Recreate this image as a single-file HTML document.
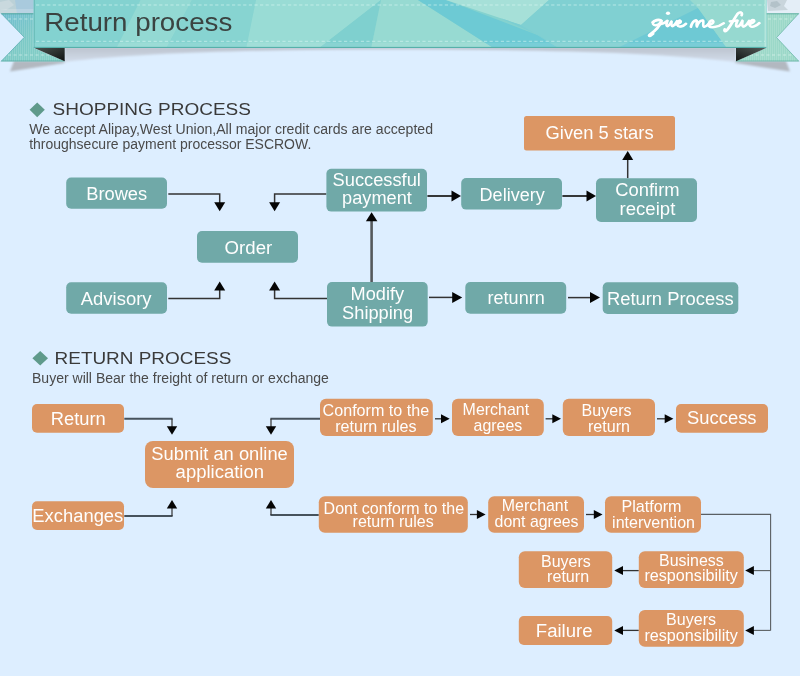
<!DOCTYPE html>
<html><head><meta charset="utf-8"><title>Return process</title>
<style>
html,body{margin:0;padding:0;background:#ddeeff;}
body{width:800px;height:676px;overflow:hidden;font-family:"Liberation Sans",sans-serif;}
svg{display:block;font-family:"Liberation Sans",sans-serif;}
</style></head><body>
<svg width="800" height="676" viewBox="0 0 800 676">
<rect width="800" height="676" fill="#ddeeff"/>
<defs>
<linearGradient id="fold" x1="0" y1="0" x2="1" y2="1"><stop offset="0" stop-color="#4a524f"/><stop offset="0.55" stop-color="#2a2f2d"/><stop offset="1" stop-color="#0d100f"/></linearGradient>
<linearGradient id="foldr" x1="1" y1="0" x2="0" y2="1"><stop offset="0" stop-color="#525a57"/><stop offset="0.55" stop-color="#303634"/><stop offset="1" stop-color="#141716"/></linearGradient>
<linearGradient id="shd" x1="0" x2="0" y1="0" y2="1"><stop offset="0" stop-color="#bcc3ce"/><stop offset="1" stop-color="#d2dcea"/></linearGradient>
<linearGradient id="tl" x1="0" x2="1" y1="0" y2="1"><stop offset="0" stop-color="#6fbcd0"/><stop offset="0.45" stop-color="#7cc9c6"/><stop offset="1" stop-color="#86d0c6"/></linearGradient>
<pattern id="stripeL" width="2" height="4" patternUnits="userSpaceOnUse"><rect width="1" height="4" fill="#ffffff" opacity="0.13"/></pattern>
<filter id="bl1" x="-10%" y="-50%" width="120%" height="200%"><feGaussianBlur stdDeviation="0.8"/></filter>
<filter id="bl2" x="-10%" y="-50%" width="120%" height="200%"><feGaussianBlur stdDeviation="1.2"/></filter>
<clipPath id="rc"><rect x="33.7" y="0" width="732.6" height="48.1"/></clipPath>
</defs>
<!-- marble corners -->
<rect x="0" y="0" width="34" height="13.4" fill="#bbd1d7"/>
<polygon points="15,0 34,0 34,13.4 17,13.4" fill="#a9cadd"/>
<polygon points="0,2 9,0 14,5 6,10 0,9" fill="#c9d9de"/>
<rect x="0" y="9" width="34" height="4.4" fill="#ffffff" opacity="0.18"/>
<rect x="766" y="0" width="34" height="13.4" fill="#e4eef7"/>
<polygon points="767,0 787,0 784,6 788,10 768,11" fill="#c9d5dc"/>
<polygon points="771,2 777,1 781,5 775,8 770,6" fill="#b3c2c9"/>
<!-- ribbon shadow under bar -->
<path d="M64.5,47 L736,47 L736,62 C650,51.5 520,49.6 400,49.6 C280,49.6 150,51.5 64.5,62 Z" fill="url(#shd)" filter="url(#bl1)"/>
<!-- tail shadows -->
<polygon points="14,61 64.5,61 64.5,63 10,71.6" fill="#b2b8c0" filter="url(#bl1)"/>
<polygon points="786,61 735.5,61 735.5,63 790,71.6" fill="#b2b8c0" filter="url(#bl1)"/>
<!-- tails -->
<polygon points="1.2,13.4 33.8,13.4 33.8,48 64.6,61.3 1.2,61.3 24.3,37.3" fill="url(#tl)"/>
<polygon points="1.2,13.4 33.8,13.4 33.8,48 64.6,61.3 1.2,61.3 24.3,37.3" fill="url(#stripeL)"/>
<polyline points="1.2,13.8 33.8,13.8" stroke="#4fa59f" stroke-width="1" fill="none"/>
<polyline points="1.2,61 64.6,61" stroke="#58aaa3" stroke-width="0.8" fill="none"/>
<polyline points="1.2,13.4 24.3,37.3 1.2,61.3" stroke="#5fb0b4" stroke-width="0.8" fill="none"/>
<line x1="8" y1="19" x2="33" y2="19" stroke="#d7f3ef" stroke-width="0.8" stroke-dasharray="3,2.5" opacity="0.8"/>
<line x1="8" y1="55" x2="50" y2="55" stroke="#d7f3ef" stroke-width="0.8" stroke-dasharray="3,2.5" opacity="0.8"/>
<polygon points="798.8,13.4 766.2,13.4 766.2,48 735.8,61.3 798.8,61.3 776.6,37.6" fill="#9bd8c8"/>
<polygon points="798.8,13.4 766.2,13.4 766.2,48 735.8,61.3 798.8,61.3 776.6,37.6" fill="url(#stripeL)"/>
<polyline points="766,13.8 798.8,13.8" stroke="#62b0a2" stroke-width="1" fill="none"/>
<polyline points="735.8,61 798.8,61" stroke="#62b0a2" stroke-width="0.8" fill="none"/>
<polyline points="798.8,13.4 776.6,37.6 798.8,61.3" stroke="#6fb9ab" stroke-width="0.8" fill="none"/>
<line x1="768" y1="19" x2="792" y2="19" stroke="#e2f7f1" stroke-width="0.8" stroke-dasharray="3,2.5" opacity="0.8"/>
<line x1="750" y1="55" x2="792" y2="55" stroke="#e2f7f1" stroke-width="0.8" stroke-dasharray="3,2.5" opacity="0.8"/>
<!-- folds -->
<polygon points="34.3,48 64.7,48 64.7,61.3" fill="url(#fold)"/>
<polygon points="766,48 736,48 736,61.3" fill="url(#foldr)"/>
<!-- main ribbon with facets -->
<g clip-path="url(#rc)">
<rect x="33" y="0" width="734" height="49" fill="#84d2cf"/>
<polygon points="33,0 140.5,0 116,49 33,49" fill="#83d2d0"/>
<polygon points="140.5,0 192,0 166,49 116,49" fill="#93d9d3"/>
<polygon points="192,0 256,0 246,49 166,49" fill="#87d4d1"/>
<polygon points="256,0 381,0 318,49 246,49" fill="#99dcd5"/>
<polygon points="381,0 318,49 371,49" fill="#7fd0cf"/>
<polygon points="381,0 418,0 495,49 371,49" fill="#97dad2"/>
<polygon points="418,0 446,0 540,36 560,49 495,49" fill="#6dcad4"/>
<polygon points="446,0 549,0 521,25 500,18" fill="#a6e0d8"/>
<polygon points="549,0 767,0 767,49 560,49 521,25" fill="#80d0d2"/>
<polygon points="500,18 521,25 560,49 540,36" fill="#7bced3"/>
<polygon points="698,8 615.5,49 727.5,49" fill="#6ec9d4"/>
<polygon points="698,8 727.5,49 767,49 767,0 690,0" fill="#96d9d0"/>
<rect x="33.7" y="0" width="1.2" height="49" fill="#6bbdb9"/>
<rect x="764.5" y="0" width="2" height="49" fill="#b4e6dc"/>
<rect x="33" y="43" width="734" height="3.8" fill="#ffffff" opacity="0.08"/>
<rect x="33" y="46.9" width="734" height="1.3" fill="#56b0aa"/>
<line x1="36" y1="5" x2="765" y2="5" stroke="#dcf8f4" stroke-width="0.75" stroke-dasharray="3.2,2.4" opacity="0.8"/>
<line x1="36" y1="41.3" x2="765" y2="41.3" stroke="#dcf8f4" stroke-width="0.75" stroke-dasharray="3.2,2.4" opacity="0.8"/>
</g>

<polygon points="29.6,109.8 37.2,102.4 44.8,109.8 37.2,117.2" fill="#5f9a8b"/>
<polygon points="32.4,358.3 40.2,351 48,358.3 40.2,365.6" fill="#5f9a8b"/>
<g fill="none" stroke="#ffffff" stroke-width="2.0" stroke-linecap="round" stroke-linejoin="round">
<path d="M 652.13,22.40 C 654.00,19.63 659.25,18.50 661.13,20.60 C 658.88,19.25 653.25,20.00 652.50,22.85 C 652.35,25.85 657.38,26.15 660.38,22.40"/>
<path d="M 661.20,20.38 C 659.85,25.25 654.75,30.88 649.65,34.40 C 647.70,35.90 648.60,37.25 652.88,33.35"/>
<path d="M 660.00,23.90 C 663.38,23.23 665.63,22.10 667.20,20.45 C 666.30,23.00 665.40,25.85 666.90,26.15 C 668.40,26.15 670.13,23.15 671.25,21.20 C 671.03,23.00 670.65,26.00 671.93,26.15 C 673.80,25.70 675.75,22.70 676.88,20.90"/>
<path d="M 675.15,24.20 C 678.00,24.05 681.15,22.25 680.25,20.68 C 679.13,19.25 676.50,22.25 677.10,24.95 C 677.85,27.35 682.50,26.75 685.73,23.45"/>
<path d="M 690.50,26.80 C 691.50,23.00 693.50,20.50 696.00,20.00 C 697.50,20.00 695.50,24.00 696.50,26.50 C 697.50,23.00 700.00,20.20 702.50,20.20 C 704.00,20.50 702.00,24.50 703.20,26.50 C 705.00,27.50 707.50,24.50 709.00,23.00"/>
<path d="M 707.50,25.00 C 711.00,25.00 714.20,22.00 712.70,20.50 C 710.50,19.30 707.50,23.00 708.50,26.00 C 710.00,28.20 718.00,27.00 723.50,23.00"/>
<path d="M 741.20,15.20 C 743.00,12.00 739.50,11.00 737.00,14.00 C 734.00,18.00 731.00,25.00 727.00,29.50 C 725.00,32.00 723.20,31.60 724.50,29.00"/>
<path d="M 729.50,21.20 C 732.00,21.00 735.00,20.80 737.20,20.20 C 736.00,23.00 735.00,26.20 736.70,26.50 C 738.70,26.50 741.00,23.00 742.20,20.40 C 741.80,23.00 741.50,26.60 743.20,26.50 C 745.20,26.00 747.50,23.00 749.00,20.50"/>
<path d="M 747.50,24.00 C 750.50,24.00 755.20,21.50 753.70,20.00 C 751.50,18.80 748.50,22.50 749.50,25.50 C 751.00,28.00 756.00,26.00 759.20,22.80"/>
</g>
<g fill="none" stroke="#ffffff" stroke-width="1.9" stroke-linecap="round" stroke-linejoin="round" transform="translate(0.7,0.35)">
<path d="M 652.13,22.40 C 654.00,19.63 659.25,18.50 661.13,20.60 C 658.88,19.25 653.25,20.00 652.50,22.85 C 652.35,25.85 657.38,26.15 660.38,22.40"/>
<path d="M 661.20,20.38 C 659.85,25.25 654.75,30.88 649.65,34.40 C 647.70,35.90 648.60,37.25 652.88,33.35"/>
<path d="M 660.00,23.90 C 663.38,23.23 665.63,22.10 667.20,20.45 C 666.30,23.00 665.40,25.85 666.90,26.15 C 668.40,26.15 670.13,23.15 671.25,21.20 C 671.03,23.00 670.65,26.00 671.93,26.15 C 673.80,25.70 675.75,22.70 676.88,20.90"/>
<path d="M 675.15,24.20 C 678.00,24.05 681.15,22.25 680.25,20.68 C 679.13,19.25 676.50,22.25 677.10,24.95 C 677.85,27.35 682.50,26.75 685.73,23.45"/>
<path d="M 690.50,26.80 C 691.50,23.00 693.50,20.50 696.00,20.00 C 697.50,20.00 695.50,24.00 696.50,26.50 C 697.50,23.00 700.00,20.20 702.50,20.20 C 704.00,20.50 702.00,24.50 703.20,26.50 C 705.00,27.50 707.50,24.50 709.00,23.00"/>
<path d="M 707.50,25.00 C 711.00,25.00 714.20,22.00 712.70,20.50 C 710.50,19.30 707.50,23.00 708.50,26.00 C 710.00,28.20 718.00,27.00 723.50,23.00"/>
<path d="M 741.20,15.20 C 743.00,12.00 739.50,11.00 737.00,14.00 C 734.00,18.00 731.00,25.00 727.00,29.50 C 725.00,32.00 723.20,31.60 724.50,29.00"/>
<path d="M 729.50,21.20 C 732.00,21.00 735.00,20.80 737.20,20.20 C 736.00,23.00 735.00,26.20 736.70,26.50 C 738.70,26.50 741.00,23.00 742.20,20.40 C 741.80,23.00 741.50,26.60 743.20,26.50 C 745.20,26.00 747.50,23.00 749.00,20.50"/>
<path d="M 747.50,24.00 C 750.50,24.00 755.20,21.50 753.70,20.00 C 751.50,18.80 748.50,22.50 749.50,25.50 C 751.00,28.00 756.00,26.00 759.20,22.80"/>
</g>
<ellipse cx="668" cy="13.2" rx="2.1" ry="1.8" fill="#fff"/>

<polyline points="168.3,194 219.7,194 219.7,203.2" fill="none" stroke="#333" stroke-width="1.5"/><polygon points="219.7,211.2 214.2,202.2 225.2,202.2" fill="#050505"/>
<polyline points="326.4,194 274.6,194 274.6,203.2" fill="none" stroke="#333" stroke-width="1.5"/><polygon points="274.6,211.2 269.1,202.2 280.1,202.2" fill="#050505"/>
<polyline points="168.3,298.4 219.7,298.4 219.7,289.5" fill="none" stroke="#333" stroke-width="1.5"/><polygon points="219.7,281.5 225.2,290.5 214.2,290.5" fill="#050505"/>
<polyline points="327,298.4 274.6,298.4 274.6,289.5" fill="none" stroke="#333" stroke-width="1.5"/><polygon points="274.6,281.5 280.1,290.5 269.1,290.5" fill="#050505"/>
<polyline points="371.6,282 371.6,220.3" fill="none" stroke="#55595c" stroke-width="2.6"/><polygon points="371.6,212.3 377.4,221.3 365.9,221.3" fill="#050505"/>
<polyline points="427.4,196 452.5,196.0" fill="none" stroke="#222" stroke-width="1.8"/><polygon points="461,196 451.5,201.4 451.5,190.6" fill="#050505"/>
<polyline points="562.4,196 587.5,196.0" fill="none" stroke="#222" stroke-width="1.8"/><polygon points="596,196 586.5,201.4 586.5,190.6" fill="#050505"/>
<polyline points="627.7,178.2 627.7,159.0" fill="none" stroke="#333" stroke-width="1.5"/><polygon points="627.7,151 633.2,160.0 622.2,160.0" fill="#050505"/>
<polyline points="429,297.4 453.2,297.4" fill="none" stroke="#333" stroke-width="1.5"/><polygon points="462.2,297.4 452.2,302.9 452.2,291.9" fill="#050505"/>
<polyline points="568,297.6 591.0,297.6" fill="none" stroke="#333" stroke-width="1.5"/><polygon points="600,297.6 590.0,303.1 590.0,292.1" fill="#050505"/>
<line x1="124.3" y1="418.8" x2="172.6" y2="418.8" stroke="#46525c" stroke-width="1.9"/><polyline points="172,418.8 172.0,427.3" fill="none" stroke="#333" stroke-width="1.2"/><polygon points="172,434.8 166.8,426.3 177.2,426.3" fill="#050505"/>
<line x1="320" y1="418.8" x2="270.4" y2="418.8" stroke="#46525c" stroke-width="1.9"/><polyline points="271,418.8 271.0,427.3" fill="none" stroke="#333" stroke-width="1.2"/><polygon points="271,434.8 265.8,426.3 276.2,426.3" fill="#050505"/>
<line x1="124.3" y1="516" x2="172.6" y2="516" stroke="#46525c" stroke-width="1.9"/><polyline points="172,516 172.0,507.5" fill="none" stroke="#333" stroke-width="1.2"/><polygon points="172,500 177.2,508.5 166.8,508.5" fill="#050505"/>
<line x1="318.8" y1="515" x2="270.4" y2="515" stroke="#46525c" stroke-width="1.9"/><polyline points="271,515 271.0,507.5" fill="none" stroke="#333" stroke-width="1.2"/><polygon points="271,500 276.2,508.5 265.8,508.5" fill="#050505"/>
<polyline points="435,418.8 442.0,418.8" fill="none" stroke="#333" stroke-width="1.3"/><polygon points="449.7,418.8 441.0,423.3 441.0,414.3" fill="#050505"/>
<polyline points="545.6,418.8 553.3,418.8" fill="none" stroke="#333" stroke-width="1.3"/><polygon points="561,418.8 552.3,423.3 552.3,414.3" fill="#050505"/>
<polyline points="657,418.8 665.7,418.8" fill="none" stroke="#333" stroke-width="1.3"/><polygon points="673.4,418.8 664.7,423.3 664.7,414.3" fill="#050505"/>
<polyline points="470,514.5 477.9,514.5" fill="none" stroke="#333" stroke-width="1.3"/><polygon points="485.6,514.5 476.9,519.0 476.9,510.0" fill="#050505"/>
<polyline points="586,514.5 594.8,514.5" fill="none" stroke="#333" stroke-width="1.3"/><polygon points="602.5,514.5 593.8,519.0 593.8,510.0" fill="#050505"/>
<polyline points="701,514.4 770.6,514.4 770.6,630.4" fill="none" stroke="#5a5f63" stroke-width="1.1"/>
<polyline points="770.6,570.6 752.9,570.6" fill="none" stroke="#5a5f63" stroke-width="1.1"/><polygon points="745.2,570.6 753.9,566.1 753.9,575.1" fill="#050505"/>
<polyline points="770.6,630.4 752.9,630.4" fill="none" stroke="#5a5f63" stroke-width="1.1"/><polygon points="745.2,630.4 753.9,625.9 753.9,634.9" fill="#050505"/>
<polyline points="638.8,570.6 622.0,570.6" fill="none" stroke="#333" stroke-width="1.3"/><polygon points="614.3,570.6 623.0,566.1 623.0,575.1" fill="#050505"/>
<polyline points="638.8,630.4 622.0,630.4" fill="none" stroke="#333" stroke-width="1.3"/><polygon points="614.3,630.4 623.0,625.9 623.0,634.9" fill="#050505"/>
<rect x="66.2" y="177.5" width="100.8" height="31.3" rx="5" fill="#70a9a8"/>
<rect x="66.2" y="282.2" width="100.8" height="31.6" rx="5" fill="#70a9a8"/>
<rect x="197" y="231" width="101.0" height="31.8" rx="5" fill="#70a9a8"/>
<rect x="326.4" y="168.8" width="100.6" height="42.8" rx="5" fill="#70a9a8"/>
<rect x="327" y="282" width="100.7" height="44.6" rx="5" fill="#70a9a8"/>
<rect x="461.2" y="178" width="100.8" height="31.6" rx="5" fill="#70a9a8"/>
<rect x="596" y="178.2" width="101.0" height="43.8" rx="5" fill="#70a9a8"/>
<rect x="524" y="116" width="151.0" height="34.6" rx="2.5" fill="#dc9664"/>
<rect x="465.3" y="282" width="100.9" height="31.8" rx="5" fill="#70a9a8"/>
<rect x="602.7" y="282.2" width="135.6" height="31.8" rx="5" fill="#70a9a8"/>
<rect x="32" y="404" width="92.0" height="28.8" rx="5" fill="#dc9664"/>
<rect x="32" y="501.2" width="92.0" height="28.8" rx="5" fill="#dc9664"/>
<rect x="145" y="441" width="149.0" height="47.0" rx="8" fill="#dc9664"/>
<rect x="320" y="398.8" width="112.8" height="37.2" rx="6" fill="#dc9664"/>
<rect x="452" y="398.8" width="91.8" height="37.2" rx="6" fill="#dc9664"/>
<rect x="562.8" y="398.8" width="92.2" height="37.2" rx="6" fill="#dc9664"/>
<rect x="676" y="404" width="92.0" height="28.8" rx="5" fill="#dc9664"/>
<rect x="318.8" y="496.2" width="149.0" height="36.6" rx="6" fill="#dc9664"/>
<rect x="488.2" y="496.2" width="95.8" height="36.6" rx="6" fill="#dc9664"/>
<rect x="605" y="496.2" width="96.0" height="36.6" rx="6" fill="#dc9664"/>
<rect x="518.8" y="551.2" width="93.4" height="36.8" rx="6" fill="#dc9664"/>
<rect x="638.8" y="551.2" width="105.0" height="36.8" rx="6" fill="#dc9664"/>
<rect x="518.8" y="616" width="93.4" height="29.0" rx="5" fill="#dc9664"/>
<rect x="638.8" y="610" width="105.0" height="36.8" rx="6" fill="#dc9664"/>
<g opacity="0.995">
<text x="86.19999999999999" y="200" font-size="18" fill="#ffffff" textLength="61.0" lengthAdjust="spacingAndGlyphs">Browes</text>
<text x="80.8" y="304.7" font-size="18" fill="#ffffff" textLength="70.7" lengthAdjust="spacingAndGlyphs">Advisory</text>
<text x="224.6" y="254" font-size="18" fill="#ffffff" textLength="47.6" lengthAdjust="spacingAndGlyphs">Order</text>
<text x="332.6" y="186" font-size="18" fill="#ffffff" textLength="88.3" lengthAdjust="spacingAndGlyphs">Successful</text>
<text x="342.1" y="203.7" font-size="18" fill="#ffffff" textLength="69.7" lengthAdjust="spacingAndGlyphs">payment</text>
<text x="350.6" y="299.7" font-size="18" fill="#ffffff" textLength="53.5" lengthAdjust="spacingAndGlyphs">Modify</text>
<text x="342.1" y="318.8" font-size="18" fill="#ffffff" textLength="71.0" lengthAdjust="spacingAndGlyphs">Shipping</text>
<text x="479.6" y="201" font-size="18" fill="#ffffff" textLength="65.1" lengthAdjust="spacingAndGlyphs">Delivery</text>
<text x="615.3000000000001" y="196.3" font-size="18" fill="#ffffff" textLength="64.3" lengthAdjust="spacingAndGlyphs">Confirm</text>
<text x="619.6" y="215" font-size="18" fill="#ffffff" textLength="55.7" lengthAdjust="spacingAndGlyphs">receipt</text>
<text x="545.6" y="139" font-size="18" fill="#ffffff" textLength="108.0" lengthAdjust="spacingAndGlyphs">Given 5 stars</text>
<text x="487.6" y="304.4" font-size="18" fill="#ffffff" textLength="57.1" lengthAdjust="spacingAndGlyphs">retunrn</text>
<text x="606.9" y="305.3" font-size="18" fill="#ffffff" textLength="126.7" lengthAdjust="spacingAndGlyphs">Return Process</text>
<text x="50.800000000000004" y="425" font-size="18" fill="#ffffff" textLength="55.0" lengthAdjust="spacingAndGlyphs">Return</text>
<text x="32.300000000000004" y="522.3" font-size="18" fill="#ffffff" textLength="91.0" lengthAdjust="spacingAndGlyphs">Exchanges</text>
<text x="151.29999999999998" y="460" font-size="18" fill="#ffffff" textLength="136.5" lengthAdjust="spacingAndGlyphs">Submit an online</text>
<text x="175.6" y="477.5" font-size="18" fill="#ffffff" textLength="88.4" lengthAdjust="spacingAndGlyphs">application</text>
<text x="322.6" y="416" font-size="17" fill="#ffffff" textLength="106.5" lengthAdjust="spacingAndGlyphs">Conform to the</text>
<text x="335.20000000000005" y="431.5" font-size="17" fill="#ffffff" textLength="81.3" lengthAdjust="spacingAndGlyphs">return rules</text>
<text x="462.6" y="415" font-size="17" fill="#ffffff" textLength="66.5" lengthAdjust="spacingAndGlyphs">Merchant</text>
<text x="473.6" y="430.6" font-size="17" fill="#ffffff" textLength="48.7" lengthAdjust="spacingAndGlyphs">agrees</text>
<text x="581.6" y="415.6" font-size="17" fill="#ffffff" textLength="49.9" lengthAdjust="spacingAndGlyphs">Buyers</text>
<text x="588.0" y="431.5" font-size="17" fill="#ffffff" textLength="42.0" lengthAdjust="spacingAndGlyphs">return</text>
<text x="687.1" y="423.8" font-size="18" fill="#ffffff" textLength="69.4" lengthAdjust="spacingAndGlyphs">Success</text>
<text x="323.6" y="514" font-size="17" fill="#ffffff" textLength="140.5" lengthAdjust="spacingAndGlyphs">Dont conform to the</text>
<text x="352.6" y="527" font-size="17" fill="#ffffff" textLength="81.1" lengthAdjust="spacingAndGlyphs">return rules</text>
<text x="501.8" y="510.7" font-size="17" fill="#ffffff" textLength="66.3" lengthAdjust="spacingAndGlyphs">Merchant</text>
<text x="494.6" y="526.8" font-size="17" fill="#ffffff" textLength="83.9" lengthAdjust="spacingAndGlyphs">dont agrees</text>
<text x="621.5" y="511.9" font-size="17" fill="#ffffff" textLength="60.0" lengthAdjust="spacingAndGlyphs">Platform</text>
<text x="612.1" y="527.5" font-size="17" fill="#ffffff" textLength="82.9" lengthAdjust="spacingAndGlyphs">intervention</text>
<text x="541.1" y="567" font-size="17" fill="#ffffff" textLength="49.7" lengthAdjust="spacingAndGlyphs">Buyers</text>
<text x="547.1" y="582" font-size="17" fill="#ffffff" textLength="42.0" lengthAdjust="spacingAndGlyphs">return</text>
<text x="659.1" y="566.2" font-size="17" fill="#ffffff" textLength="64.7" lengthAdjust="spacingAndGlyphs">Business</text>
<text x="644.4" y="581.3" font-size="17" fill="#ffffff" textLength="93.4" lengthAdjust="spacingAndGlyphs">responsibility</text>
<text x="535.8000000000001" y="637" font-size="18" fill="#ffffff" textLength="56.7" lengthAdjust="spacingAndGlyphs">Failure</text>
<text x="666.1" y="625" font-size="17" fill="#ffffff" textLength="50.0" lengthAdjust="spacingAndGlyphs">Buyers</text>
<text x="644.4" y="640.5" font-size="17" fill="#ffffff" textLength="93.4" lengthAdjust="spacingAndGlyphs">responsibility</text>
<text x="44.300000000000004" y="31.0" font-size="25.2" fill="#3b4341" textLength="188.0" lengthAdjust="spacingAndGlyphs">Return process</text>
<text x="52.6" y="114.9" font-size="16.7" fill="#3a3a3a" textLength="198.3" lengthAdjust="spacingAndGlyphs">SHOPPING PROCESS</text>
<text x="29.200000000000003" y="133.6" font-size="13.8" fill="#4a4a4a" textLength="403.8" lengthAdjust="spacingAndGlyphs">We accept Alipay,West Union,All major credit cards are accepted</text>
<text x="29.200000000000003" y="148.7" font-size="13.8" fill="#4a4a4a" textLength="282.1" lengthAdjust="spacingAndGlyphs">throughsecure payment processor ESCROW.</text>
<text x="54.6" y="363.6" font-size="16.7" fill="#3a3a3a" textLength="176.7" lengthAdjust="spacingAndGlyphs">RETURN PROCESS</text>
<text x="32.0" y="382.6" font-size="13.8" fill="#4a4a4a" textLength="296.9" lengthAdjust="spacingAndGlyphs">Buyer will Bear the freight of return or exchange</text>
</g>
</svg>
</body></html>
